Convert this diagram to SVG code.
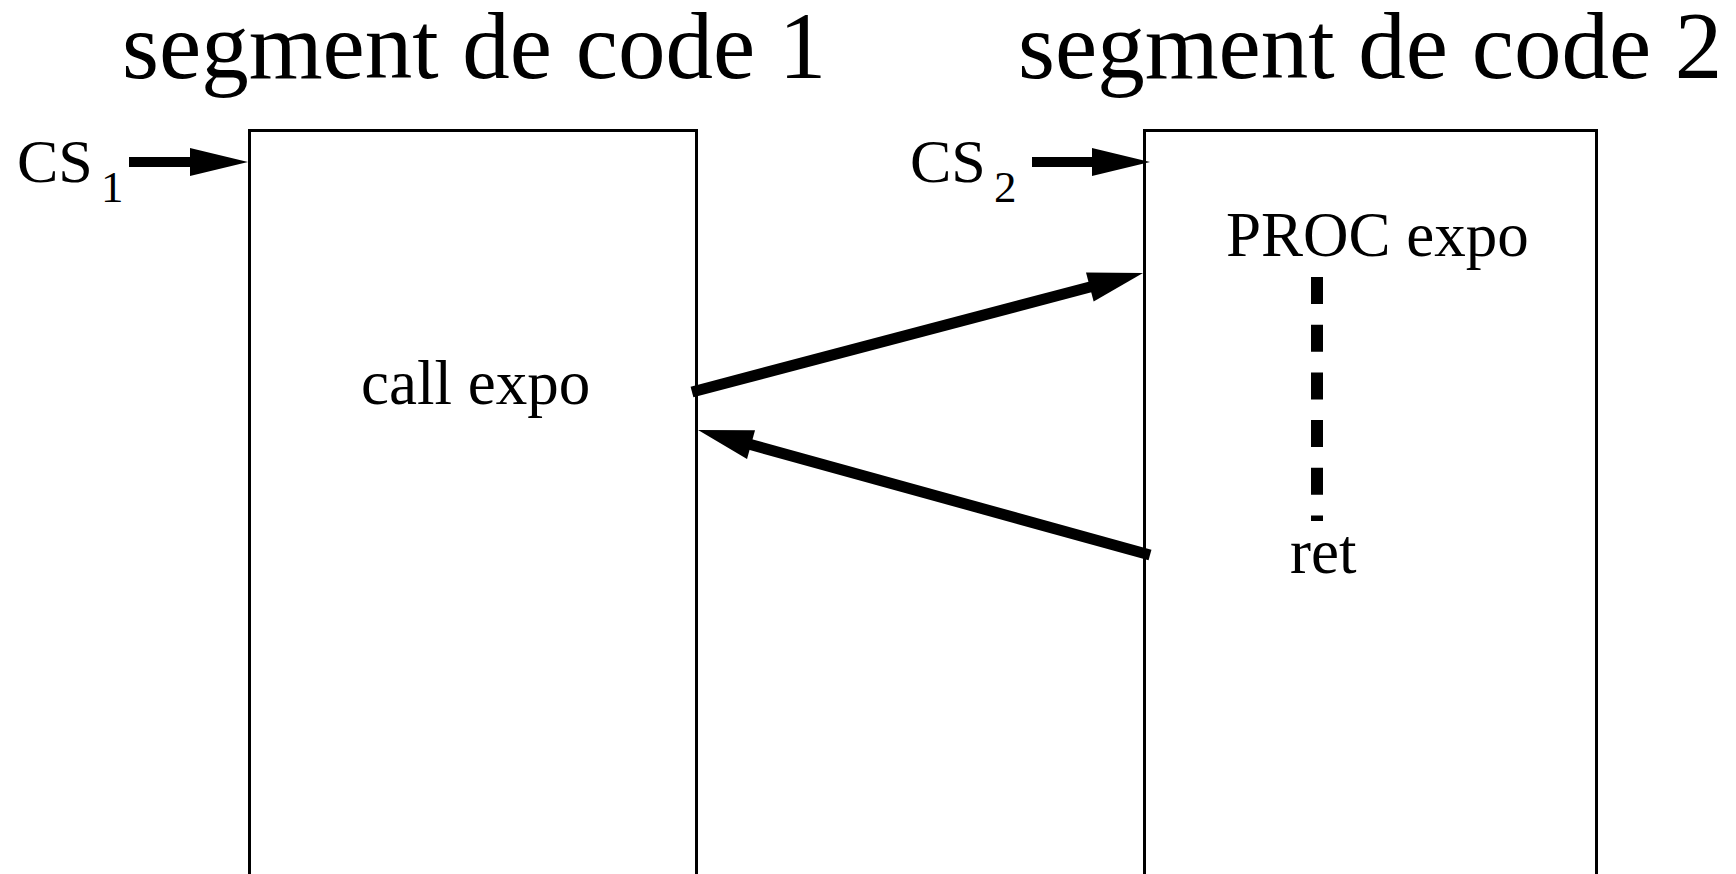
<svg xmlns="http://www.w3.org/2000/svg" width="1736" height="874" viewBox="0 0 1736 874">
  <style>
    text { font-family: "Liberation Serif", "Times New Roman", serif; fill: #000; }
    .title { font-size: 95px; }
    .label { font-size: 63px; }
    .cs { font-size: 62px; }
    .sub { font-size: 45px; }
    .seg { fill: none; stroke: #000; stroke-width: 3; }
    .flow { fill: none; stroke: #000; stroke-width: 11; }
    .entry { fill: none; stroke: #000; stroke-width: 10; }
    .body { fill: none; stroke: #000; stroke-width: 12; stroke-dasharray: 27 20.7; }
  </style>
  <defs>
    <marker id="headBig" viewBox="0 -20 60 40" markerWidth="60" markerHeight="40" refX="10" refY="0" orient="auto" markerUnits="userSpaceOnUse" overflow="visible">
      <path d="M0,-15 L55,0 L0,15 Z" fill="#000"/>
    </marker>
    <marker id="headEntry" viewBox="0 -20 60 40" markerWidth="60" markerHeight="40" refX="5" refY="0" orient="auto" markerUnits="userSpaceOnUse" overflow="visible">
      <path d="M0,-14 L58,0 L0,14 Z" fill="#000"/>
    </marker>
  </defs>
  <rect width="1736" height="874" fill="#fff"/>

  <!-- code segment 1 -->
  <g id="segment1">
    <text class="title" x="122" y="78">segment de code 1</text>
    <path class="seg" d="M249.5,880 V130.5 H696.5 V880"/>
    <text class="label" x="361" y="404">call expo</text>
  </g>

  <!-- code segment 2 -->
  <g id="segment2">
    <text class="title" x="1018" y="78">segment de code 2</text>
    <path class="seg" d="M1144.5,880 V130.5 H1596.5 V880"/>
    <text class="label" x="1226" y="256">PROC expo</text>
    <line class="body" x1="1317" y1="277" x2="1317" y2="521"/>
    <text class="label" x="1290" y="573">ret</text>
  </g>

  <!-- segment registers -->
  <g id="cs1">
    <text class="cs" x="17" y="182">CS</text>
    <text class="sub" x="101" y="202">1</text>
  </g>
  <g id="cs2">
    <text class="cs" x="910" y="182">CS</text>
    <text class="sub" x="994" y="202">2</text>
  </g>

  <!-- connectors -->
  <g id="connectors">
    <line class="entry" x1="129" y1="162" x2="195" y2="162" marker-end="url(#headEntry)"/>
    <line class="entry" x1="1032" y1="162" x2="1097" y2="162" marker-end="url(#headEntry)"/>
    <line class="flow" x1="692" y1="392" x2="1099.5" y2="284.5" marker-end="url(#headBig)"/>
    <line class="flow" x1="1150" y1="555" x2="741.4" y2="442" marker-end="url(#headBig)"/>
  </g>
</svg>
